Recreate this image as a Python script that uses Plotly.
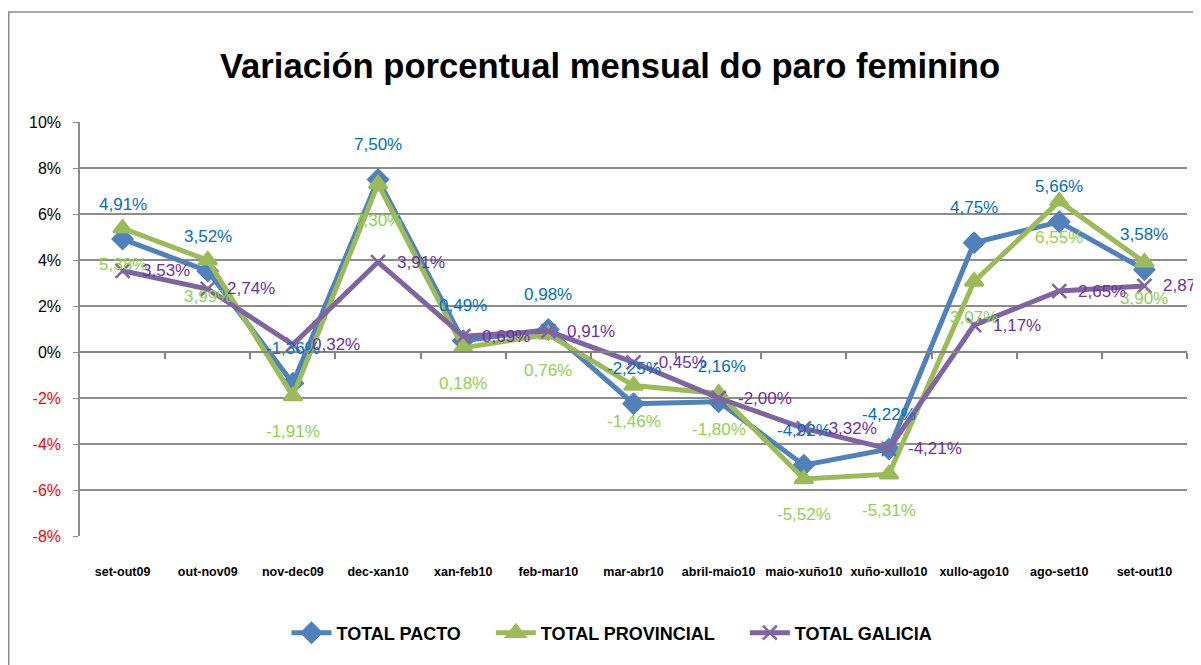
import plotly.graph_objects as go

categories = ["set-out09", "out-nov09", "nov-dec09", "dec-xan10", "xan-feb10", "feb-mar10",
              "mar-abr10", "abril-maio10", "maio-xuño10", "xuño-xullo10", "xullo-ago10",
              "ago-set10", "set-out10"]
total_pacto = [4.91, 3.52, -1.36, 7.50, 0.49, 0.98, -2.25, -2.16, -4.92, -4.22, 4.75, 5.66, 3.58]
total_provincial = [5.38, 3.99, -1.91, 7.30, 0.18, 0.76, -1.46, -1.80, -5.52, -5.31, 3.07, 6.55, 3.90]
total_galicia = [3.53, 2.74, 0.32, 3.91, 0.69, 0.91, -0.45, -2.00, -3.32, -4.21, 1.17, 2.65, 2.87]
series_names = ["TOTAL PACTO", "TOTAL PROVINCIAL", "TOTAL GALICIA"]
y_ticks = [-8, -6, -4, -2, 0, 2, 4, 6, 8, 10]

FONT = "Liberation Sans, Arial, sans-serif"

def lbl(v):
    return f"{v:.2f}%".replace(".", ",")

# page body has an 8px margin; work in figure coordinates
OFF = 8
W, H = 1201 - OFF, 665 - OFF
PL, PR, PT, PB = 80 - OFF, 1187 - OFF, 122 - OFF, 536 - OFF
L, R, T, B = PL, W - PR, PT, H - PB
pw, ph = PR - PL, PB - PT

fig = go.Figure()
styles = [
    ("#4F81BD", "#0070C0", "diamond", 15, dict(yshift=35)),
    ("#9BBB59", "#92D050", "triangle-up", 16, dict(yshift=-36)),
    ("#8064A2", "#7030A0", "x-thin-open", 14, dict(xshift=17, xanchor="left")),
]
annotations = []
for k, (name, vals) in enumerate(zip(series_names, [total_pacto, total_provincial, total_galicia])):
    lc, tc, sym, ms, shift = styles[k]
    xs = list(range(len(categories)))
    legend_name = name + ("\u00a0" * 5 if k < 2 else "")
    fig.add_trace(go.Scatter(
        x=xs, y=vals, name=legend_name,
        mode="lines+markers",
        line=dict(color=lc, width=5),
        marker=dict(symbol=sym, size=ms, color=lc, line=dict(color=lc, width=2.5)),
        cliponaxis=False,
    ))
    for xi, v in zip(xs, vals):
        a = dict(x=xi, y=v, xref="x", yref="y", text=lbl(v), showarrow=False,
                 xanchor="center", yanchor="middle",
                 font=dict(family=FONT, size=17, color=tc))
        a.update(shift)
        annotations.append(a)

ticktext = []
for v in y_ticks:
    s = f"{v}%"
    if v < 0:
        s = f"<span style='color:red'>{s}</span>"
    ticktext.append(s)

# invisible trace for the category-boundary axis at y=0
fig.add_trace(go.Scatter(x=[0], y=[0], xaxis="x2", mode="markers",
                         marker=dict(opacity=0), showlegend=False, hoverinfo="skip"))

fig.update_layout(
    width=W, height=H,
    margin=dict(l=L, r=R, t=T, b=B, autoexpand=False),
    paper_bgcolor="white", plot_bgcolor="white",
    annotations=annotations,
    title=dict(text="<b>Variación porcentual mensual do paro feminino</b>",
               x=(610 - OFF) / W, xanchor="center", y=1 - (66 - OFF) / H, yanchor="middle",
               font=dict(family=FONT, size=34.6, color="black")),
    xaxis=dict(range=[-0.5, len(categories) - 0.5], tickmode="array",
               tickvals=list(range(len(categories))), ticktext=categories,
               showgrid=False, showline=False, ticks="", zeroline=False,
               automargin=False, ticklabelstandoff=26,
               tickfont=dict(family=FONT, size=12.5, color="black", weight="bold")),
    xaxis2=dict(overlaying="x", anchor="free", position=8 / 18,
                range=[-0.5, len(categories) - 0.5], tickmode="array",
                tickvals=[i + 0.5 for i in range(len(categories))],
                showticklabels=False, ticks="outside", ticklen=6, tickwidth=1.5,
                tickcolor="#868686", showline=True, linecolor="#868686", linewidth=2,
                showgrid=False, zeroline=False, automargin=False),
    yaxis=dict(range=[-8, 10], tickmode="array", tickvals=y_ticks, ticktext=ticktext,
               showgrid=True, gridcolor="#8C8C8C", gridwidth=1.5,
               showline=True, linecolor="#8C8C8C", linewidth=1.5,
               ticks="outside", ticklen=5, tickcolor="#8C8C8C", zeroline=False,
               automargin=False, ticklabelstandoff=9,
               tickfont=dict(family=FONT, size=16, color="black")),
    legend=dict(orientation="h", x=(612 - OFF - PL) / pw, xanchor="center",
                y=-(633 - 536) / (536 - 122), yanchor="middle",
                font=dict(family=FONT, size=18, color="black", weight="bold"),
                itemwidth=40, traceorder="normal"),
    showlegend=True,
)

fig.add_shape(type="rect", xref="paper", yref="paper",
              x0=(0.75 - PL) / pw, x1=(W + 20 - PL) / pw,
              y0=(PB - H - 20) / ph, y1=(PB - (12 - OFF)) / ph,
              line=dict(color="#8C8C8C", width=1.5), layer="below")

fig.write_html("out.html")
